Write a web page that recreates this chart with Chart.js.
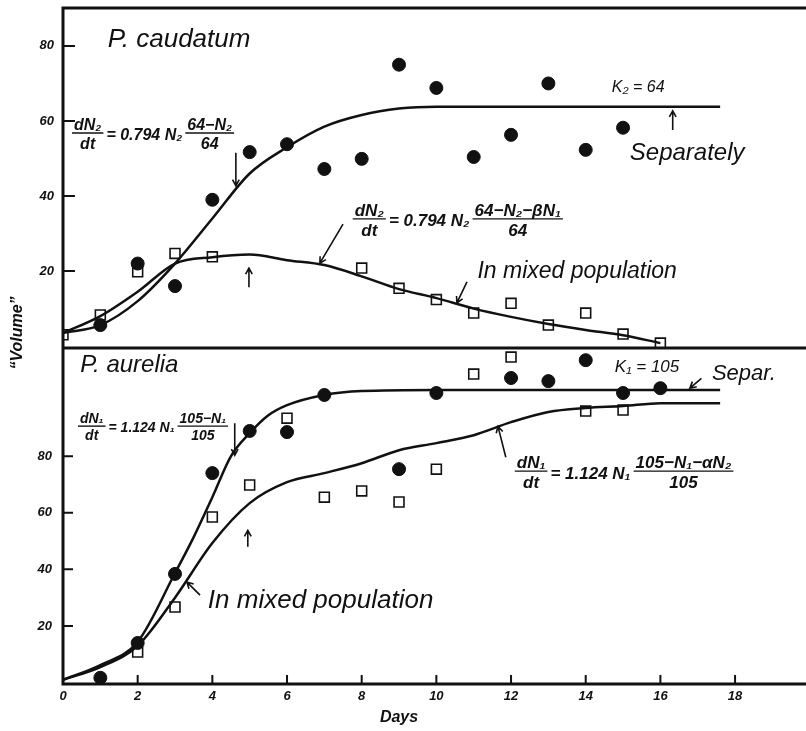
<!DOCTYPE html>
<html>
<head>
<meta charset="utf-8">
<script src="https://cdn.jsdelivr.net/npm/chart.js@4.4.1/dist/chart.umd.min.js"></script>
<style>
  html, body { margin: 0; padding: 0; background: #fff; overflow: hidden; }
  #wrap { width: 806px; height: 731px; position: relative; }
  #chart { display: block; }
</style>
</head>
<body>
<div id="wrap"><canvas id="chart"></canvas></div>
<script>
// tick labels
const dayTicks = [0, 2, 4, 6, 8, 10, 12, 14, 16, 18];
const caudatumTicks = [20, 40, 60, 80];
const aureliaTicks = [20, 40, 60, 80];

// P. caudatum (upper panel) - observed volumes
const caudatumAloneDays = [1, 2, 3, 4, 5, 6, 7, 8, 9, 10, 11, 12, 13, 14, 15];
const caudatumAlone = [5.6, 22, 16, 39, 51.7, 53.8, 47.2, 49.9, 75, 68.8, 50.4, 56.3, 70, 52.3, 58.2];
const caudatumMixedDays = [0, 1, 2, 3, 4, 8, 9, 10, 11, 12, 13, 14, 15, 16];
const caudatumMixed = [3, 8.3, 19.8, 24.7, 23.8, 20.8, 15.4, 12.4, 8.8, 11.4, 5.6, 8.8, 3.2, 0.8];

// P. caudatum - fitted curves
const caudatumAloneCurveDays = [0, 1, 2, 3, 4, 5, 6, 7, 8, 9, 10, 12, 14, 16, 17.6];
const caudatumAloneCurve = [3.5, 5.6, 12, 22, 34, 46, 53, 58.5, 61.6, 63.3, 63.8, 63.8, 63.8, 63.8, 63.8];
const caudatumMixedCurveDays = [0, 1, 2, 3, 4, 5, 6, 7, 8, 9, 10, 11, 12, 13, 14, 15, 16];
const caudatumMixedCurve = [3.5, 8, 14.5, 22, 23.7, 24.4, 22.9, 21.6, 18.6, 15.2, 12.8, 10, 7.8, 5.9, 4.3, 2.9, 0.8];

// P. aurelia (lower panel) - observed volumes
const aureliaAloneDays = [1, 2, 3, 4, 5, 6, 7, 9, 10, 12, 13, 14, 15, 16];
const aureliaAlone = [1.7, 14, 38.4, 74, 88.9, 88.5, 101.6, 75.4, 102.3, 107.6, 106.5, 113.9, 102.3, 104];
const aureliaMixedDays = [2, 3, 4, 5, 6, 7, 8, 9, 10, 11, 12, 14, 15];
const aureliaMixed = [10.8, 26.7, 58.5, 69.8, 93.4, 65.5, 67.7, 63.8, 75.4, 109, 115, 95.9, 96.3];

// P. aurelia - fitted curves
const aureliaAloneCurveDays = [0, 1, 2, 3, 3.5, 4, 4.5, 5, 5.5, 6, 7, 8, 10, 12, 14, 16, 17.6];
const aureliaAloneCurve = [1, 6.2, 14.4, 38.7, 51.4, 65.5, 80, 88.1, 94.4, 98, 101.6, 103, 103.4, 103.4, 103.4, 103.4, 103.4];
const aureliaMixedCurveDays = [0, 1, 2, 3, 4, 5, 6, 7, 8, 9, 10, 11, 12, 13, 14, 15, 16, 17.6];
const aureliaMixedCurve = [1, 5.5, 13, 30, 49.3, 63.4, 70.8, 74, 77.5, 82.1, 84.6, 87.4, 92, 95.6, 97, 97.7, 98.7, 98.7];

const ink = "#111";
const hand = '"Liberation Sans", "DejaVu Sans", sans-serif';

const pts = (days, vals) => days.map((d, i) => ({ x: d, y: vals[i] }));

const curve = (days, vals, axis) => ({
	data: pts(days, vals),
	yAxisID: axis,
	showLine: true,
	borderColor: ink,
	borderWidth: 2.5,
	pointRadius: 0,
	cubicInterpolationMode: "monotone",
});

const dots = (days, vals, axis) => ({
	data: pts(days, vals),
	yAxisID: axis,
	showLine: false,
	pointStyle: "circle",
	pointRadius: 6.5,
	backgroundColor: ink,
	borderColor: ink,
	borderWidth: 1,
});

const squares = (days, vals, axis) => ({
	data: pts(days, vals),
	yAxisID: axis,
	showLine: false,
	pointStyle: "rect",
	pointRadius: 7,
	backgroundColor: "#fff",
	borderColor: ink,
	borderWidth: 1.6,
});

function arrow(ctx, x1, y1, x2, y2) {
	const a = Math.atan2(y2 - y1, x2 - x1);
	const h = 7;
	ctx.beginPath();
	ctx.moveTo(x1, y1);
	ctx.lineTo(x2, y2);
	ctx.moveTo(x2 - h * Math.cos(a - 0.5), y2 - h * Math.sin(a - 0.5));
	ctx.lineTo(x2, y2);
	ctx.lineTo(x2 - h * Math.cos(a + 0.5), y2 - h * Math.sin(a + 0.5));
	ctx.stroke();
}

// draws a formula: parts are strings or [numerator, denominator]
function formula(ctx, x, yBar, parts, size) {
	ctx.font = "italic bold " + size + "px " + hand;
	ctx.textBaseline = "alphabetic";
	ctx.lineWidth = 1.4;
	for (const p of parts) {
		if (Array.isArray(p)) {
			const w = Math.max(ctx.measureText(p[0]).width, ctx.measureText(p[1]).width) + 4;
			ctx.textAlign = "center";
			ctx.fillText(p[0], x + w / 2, yBar - 3);
			ctx.fillText(p[1], x + w / 2, yBar + size);
			ctx.beginPath();
			ctx.moveTo(x, yBar);
			ctx.lineTo(x + w, yBar);
			ctx.stroke();
			x += w + 3;
		} else {
			ctx.textAlign = "left";
			ctx.fillText(p, x, yBar + size / 2 - 1);
			x += ctx.measureText(p).width + 3;
		}
	}
}

const drawings = {
	id: "drawings",
	afterDraw(chart) {
		const { ctx, chartArea: area, scales } = chart;
		const sx = scales.x;
		const at = (d, v, axis) => [sx.getPixelForValue(d), scales[axis].getPixelForValue(v)];
		ctx.save();
		ctx.strokeStyle = ink;
		ctx.fillStyle = ink;

		// frame and divider
		const divider = scales.yTop.bottom;
		ctx.lineWidth = 3;
		ctx.beginPath();
		ctx.moveTo(area.left, area.top);
		ctx.lineTo(area.right, area.top);
		ctx.moveTo(area.left, divider);
		ctx.lineTo(area.right, divider);
		ctx.moveTo(area.left, area.bottom);
		ctx.lineTo(area.right, area.bottom);
		ctx.moveTo(area.left, area.top - 1.5);
		ctx.lineTo(area.left, area.bottom + 1.5);
		ctx.stroke();

		// tick marks inside the frame
		ctx.lineWidth = 2;
		ctx.beginPath();
		caudatumTicks.forEach((v) => {
			const y = scales.yTop.getPixelForValue(v);
			ctx.moveTo(area.left, y);
			ctx.lineTo(area.left + 12, y);
		});
		aureliaTicks.forEach((v) => {
			const y = scales.yBot.getPixelForValue(v);
			ctx.moveTo(area.left, y);
			ctx.lineTo(area.left + 10, y);
		});
		dayTicks.slice(1).forEach((d) => {
			const x = sx.getPixelForValue(d);
			ctx.moveTo(x, area.bottom);
			ctx.lineTo(x, area.bottom - 9);
		});
		ctx.stroke();

		// labels
		const label = (txt, d, v, axis, size) => {
			const [x, y] = at(d, v, axis);
			ctx.font = "italic " + size + "px " + hand;
			ctx.textAlign = "left";
			ctx.textBaseline = "alphabetic";
			ctx.fillText(txt, x, y);
		};
		label("P. caudatum", 1.2, 79.7, "yTop", 26);
		label("K\u2082 = 64", 14.7, 67.7, "yTop", 16);
		label("Separately", 15.18, 49.6, "yTop", 24);
		label("In mixed population", 11.1, 18.1, "yTop", 23);
		label("P. aurelia", 0.46, 109.7, "yBot", 24);
		label("K\u2081 = 105", 14.78, 109.7, "yBot", 17);
		label("Separ.", 17.38, 106.8, "yBot", 22);
		label("In mixed population", 3.88, 26.3, "yBot", 26);

		// formulas
		let p = at(0.24, 56.8, "yTop");
		formula(ctx, p[0], p[1], [["dN\u2082", "dt"], "= 0.794 N\u2082", ["64\u2212N\u2082", "64"]], 16);
		p = at(7.76, 33.9, "yTop");
		formula(ctx, p[0], p[1], [["dN\u2082", "dt"], "= 0.794 N\u2082", ["64\u2212N\u2082\u2212\u03b2N\u2081", "64"]], 17);
		p = at(0.4, 90.6, "yBot");
		formula(ctx, p[0], p[1], [["dN\u2081", "dt"], "= 1.124 N\u2081", ["105\u2212N\u2081", "105"]], 14);
		p = at(12.1, 74.7, "yBot");
		formula(ctx, p[0], p[1], [["dN\u2081", "dt"], "= 1.124 N\u2081", ["105\u2212N\u2081\u2212\u03b1N\u2082", "105"]], 17);

		// arrows
		ctx.lineWidth = 1.6;
		const arr = (d1, v1, d2, v2, axis) => {
			const a = at(d1, v1, axis);
			const b = at(d2, v2, axis);
			arrow(ctx, a[0], a[1], b[0], b[1]);
		};
		arr(4.63, 51.5, 4.63, 42.7, "yTop");
		arr(7.5, 32.5, 6.88, 22.1, "yTop");
		arr(4.98, 15.7, 4.98, 20.8, "yTop");
		arr(10.82, 17.1, 10.55, 11.5, "yTop");
		arr(16.33, 57.6, 16.33, 62.7, "yTop");
		arr(17.1, 107.5, 16.79, 104, "yBot");
		arr(4.6, 91.6, 4.6, 80.3, "yBot");
		arr(4.95, 48, 4.95, 53.8, "yBot");
		arr(11.86, 79.6, 11.65, 90.5, "yBot");
		arr(3.67, 30.9, 3.32, 35.5, "yBot");

		// axis titles
		p = at(9, 0, "yBot");
		ctx.font = "italic bold 16px " + hand;
		ctx.textAlign = "center";
		ctx.textBaseline = "middle";
		ctx.fillText("Days", p[0], 718);
		ctx.translate(18, 333);
		ctx.rotate(-Math.PI / 2);
		ctx.fillText("\u201cVolume\u201d", 0, 0);
		ctx.restore();
	},
};

const tickFont = { family: hand, size: 13, style: "italic", weight: "bold" };

// keep the frame where the picture has it: no automatic label padding
const fitY = (s) => { s.width = 63; s.paddingTop = 0; s.paddingBottom = 0; };
const fitX = (s) => { s.height = 47; s.paddingLeft = 0; s.paddingRight = 0; };

new Chart(document.getElementById("chart"), {
	type: "scatter",
	data: {
		datasets: [
			curve(caudatumAloneCurveDays, caudatumAloneCurve, "yTop"),
			curve(caudatumMixedCurveDays, caudatumMixedCurve, "yTop"),
			curve(aureliaAloneCurveDays, aureliaAloneCurve, "yBot"),
			curve(aureliaMixedCurveDays, aureliaMixedCurve, "yBot"),
			dots(caudatumAloneDays, caudatumAlone, "yTop"),
			squares(caudatumMixedDays, caudatumMixed, "yTop"),
			dots(aureliaAloneDays, aureliaAlone, "yBot"),
			squares(aureliaMixedDays, aureliaMixed, "yBot"),
		],
	},
	options: {
		responsive: true,
		maintainAspectRatio: false,
		animation: false,
		layout: { autoPadding: false, padding: { top: 8, right: 0, left: 0, bottom: 0 } },
		plugins: { legend: { display: false }, tooltip: { enabled: false } },
		scales: {
			x: {
				type: "linear",
				min: 0,
				max: 19.9,
				afterBuildTicks: (s) => { s.ticks = dayTicks.map((v) => ({ value: v })); },
				afterFit: fitX,
				grid: { display: false, drawTicks: false },
				border: { display: false },
				ticks: { color: ink, font: tickFont, padding: 5 },
			},
			// stacked on the left: the scale listed last ends up on top
			yBot: {
				type: "linear",
				position: "left",
				stack: "panels",
				stackWeight: 336,
				min: -0.5,
				max: 118.2,
				afterBuildTicks: (s) => { s.ticks = aureliaTicks.map((v) => ({ value: v })); },
				afterFit: fitY,
				grid: { display: false, drawTicks: false },
				border: { display: false },
				ticks: { color: ink, font: tickFont, padding: 11 },
			},
			yTop: {
				type: "linear",
				position: "left",
				stack: "panels",
				stackWeight: 340,
				min: -0.5,
				max: 90.1,
				afterBuildTicks: (s) => { s.ticks = caudatumTicks.map((v) => ({ value: v })); },
				afterFit: fitY,
				grid: { display: false, drawTicks: false },
				border: { display: false },
				ticks: { color: ink, font: tickFont, padding: 9 },
			},
		},
	},
	plugins: [drawings],
});
</script>
</body>
</html>
